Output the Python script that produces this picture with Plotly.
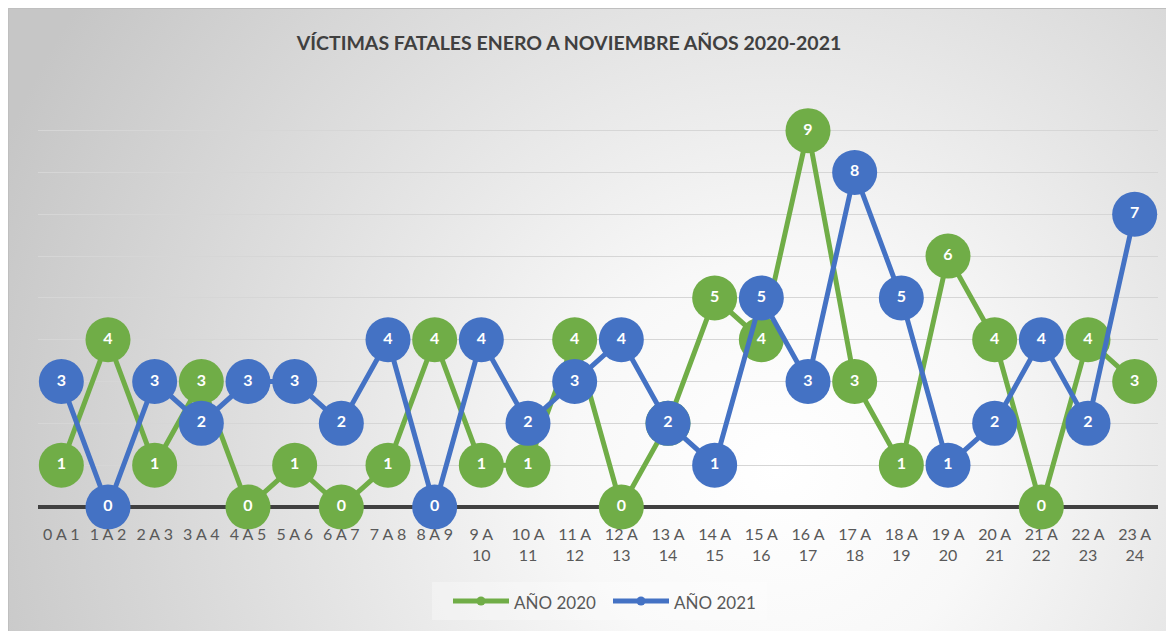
import base64
import plotly.graph_objects as go

categories = ["0 A 1", "1 A 2", "2 A 3", "3 A 4", "4 A 5", "5 A 6", "6 A 7", "7 A 8",
              "8 A 9", "9 A 10", "10 A 11", "11 A 12", "12 A 13", "13 A 14", "14 A 15",
              "15 A 16", "16 A 17", "17 A 18", "18 A 19", "19 A 20", "20 A 21", "21 A 22",
              "22 A 23", "23 A 24"]
tick_labels = ["0 A 1", "1 A 2", "2 A 3", "3 A 4", "4 A 5", "5 A 6", "6 A 7", "7 A 8",
               "8 A 9", "9 A<br>10", "10 A<br>11", "11 A<br>12", "12 A<br>13", "13 A<br>14",
               "14 A<br>15", "15 A<br>16", "16 A<br>17", "17 A<br>18", "18 A<br>19",
               "19 A<br>20", "20 A<br>21", "21 A<br>22", "22 A<br>23", "23 A<br>24"]
values_2020 = [1, 4, 1, 3, 0, 1, 0, 1, 4, 1, 1, 4, 0, 2, 5, 4, 9, 3, 1, 6, 4, 0, 4, 3]
values_2021 = [3, 0, 3, 2, 3, 3, 2, 4, 0, 4, 2, 3, 4, 2, 1, 5, 3, 8, 5, 1, 2, 4, 2, 7]
series_names = ["AÑO 2020", "AÑO 2021"]

GREEN = "#70AD47"
BLUE = "#4472C4"
OFF = 8  # page body margin
W, H = 1174 - OFF, 631 - OFF
ML, MR, MT, MB = 38 - OFF, 16, 88 - OFF, 124
PW, PH = W - ML - MR, H - MT - MB


def px_x(p):
    return (p - OFF - ML) / PW


def px_y(p):
    return (MT + PH - (p - OFF)) / PH


fig = go.Figure()
for name, vals, col in [(series_names[0], values_2020, GREEN), (series_names[1], values_2021, BLUE)]:
    fig.add_trace(go.Scatter(
        x=categories, y=vals, mode="lines+markers+text", name=name,
        line=dict(color=col, width=5),
        marker=dict(color=col, size=45, line=dict(width=0)),
        text=[str(v) for v in vals], textposition="middle center",
        textfont=dict(color="white", size=16, family="Lato", weight="bold"),
        cliponaxis=False, showlegend=False,
    ))

svg = f'''<svg xmlns="http://www.w3.org/2000/svg" width="{W}" height="{H}" viewBox="0 0 {W} {H}" preserveAspectRatio="none">
<defs><radialGradient id="g" cx="{0.66*W}" cy="{0.74*H}" r="{0.72*W}" gradientUnits="userSpaceOnUse">
<stop offset="0" stop-color="#ffffff"/><stop offset="0.25" stop-color="#f8f8f8"/><stop offset="1" stop-color="#c6c6c6"/></radialGradient></defs>
<rect x="0" y="0" width="{W}" height="{H}" fill="url(#g)"/></svg>'''
src = "data:image/svg+xml;base64," + base64.b64encode(svg.encode()).decode()

fig.add_layout_image(dict(
    source=src, xref="paper", yref="paper",
    x=-ML / PW, y=(PH + MT) / PH, sizex=W / PW, sizey=H / PH,
    xanchor="left", yanchor="top", sizing="stretch", layer="below",
))
fig.add_shape(type="rect", xref="paper", yref="paper",
              x0=-ML / PW + 0.0004, x1=(W - ML) / PW + 0.01, y0=-MB / PH - 0.01, y1=(PH + MT - 0.5) / PH,
              line=dict(color="#bfbfbf", width=1), fillcolor="rgba(0,0,0,0)", layer="below")
# horizontal axis line
fig.add_shape(type="line", xref="paper", yref="paper", x0=0, x1=1, y0=0, y1=0,
              line=dict(color="#404040", width=4), layer="below")

# legend drawn manually (box, line+dot symbols, labels)
fig.add_shape(type="rect", xref="paper", yref="paper",
              x0=px_x(432), x1=px_x(767), y0=px_y(620), y1=px_y(582),
              line=dict(width=0), fillcolor="rgba(255,255,255,0.3)", layer="below")
for i, (name, col) in enumerate(zip(series_names, [GREEN, BLUE])):
    x0 = 453 + i * 160
    fig.add_shape(type="line", xref="paper", yref="paper",
                  x0=px_x(x0), x1=px_x(x0 + 56), y0=px_y(601), y1=px_y(601),
                  line=dict(color=col, width=5))
    fig.add_shape(type="circle", xref="paper", yref="paper",
                  x0=px_x(x0 + 28 - 4.5), x1=px_x(x0 + 28 + 4.5),
                  y0=px_y(601 + 4.5), y1=px_y(601 - 4.5),
                  line=dict(width=0), fillcolor=col)
    fig.add_annotation(xref="paper", yref="paper", x=px_x(x0 + 59), y=px_y(602),
                       text=name, showarrow=False, xanchor="left", yanchor="middle",
                       font=dict(family="Lato", size=17, color="#595959"))

fig.update_layout(
    width=W, height=H,
    margin=dict(l=ML, r=MR, t=MT, b=MB),
    paper_bgcolor="white", plot_bgcolor="rgba(0,0,0,0)",
    title=dict(text="<b>VÍCTIMAS FATALES ENERO A NOVIEMBRE AÑOS 2020-2021</b>",
               x=(569 - OFF) / W, xref="container", xanchor="center",
               y=1 - (43 - OFF) / H, yref="container", yanchor="middle",
               font=dict(family="Lato", size=19.5, color="#404040")),
    xaxis=dict(type="category", tickmode="array", tickvals=categories, ticktext=tick_labels,
               showgrid=False, zeroline=False, showline=False, ticks="",
               ticklabelstandoff=16,
               tickfont=dict(family="Lato", size=16, color="#595959"),
               range=[-0.5, len(categories) - 0.5]),
    yaxis=dict(range=[0, 10.02], dtick=1, showgrid=True, gridcolor="#d6d6d6", gridwidth=1,
               zeroline=False, showticklabels=False, ticks=""),
    showlegend=False,
)

fig.write_html("out.html")
